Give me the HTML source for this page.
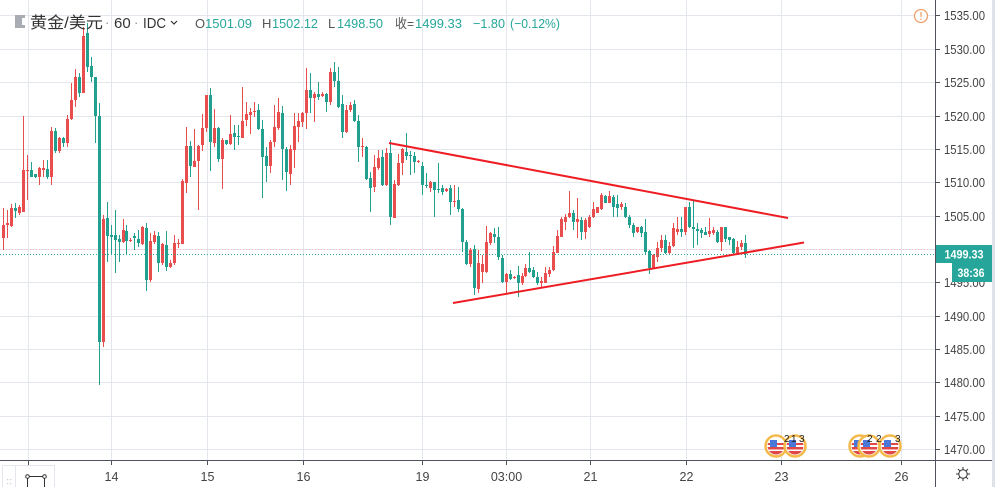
<!DOCTYPE html>
<html><head><meta charset="utf-8"><style>
html,body{margin:0;padding:0;background:#fff;}
svg{display:block;}
text{font-family:"Liberation Sans","Noto Sans CJK SC",sans-serif;}
</style></head><body>
<svg width="995" height="487" viewBox="0 0 995 487" xmlns="http://www.w3.org/2000/svg">
<rect width="995" height="487" fill="#fff"/>
<g stroke="#e3e6ec" stroke-width="1">
<line x1="0" y1="15.5" x2="935" y2="15.5"/>
<line x1="0" y1="49.5" x2="935" y2="49.5"/>
<line x1="0" y1="82.5" x2="935" y2="82.5"/>
<line x1="0" y1="116.5" x2="935" y2="116.5"/>
<line x1="0" y1="149.5" x2="935" y2="149.5"/>
<line x1="0" y1="182.5" x2="935" y2="182.5"/>
<line x1="0" y1="216.5" x2="935" y2="216.5"/>
<line x1="0" y1="249.5" x2="935" y2="249.5"/>
<line x1="0" y1="282.5" x2="935" y2="282.5"/>
<line x1="0" y1="316.5" x2="935" y2="316.5"/>
<line x1="0" y1="349.5" x2="935" y2="349.5"/>
<line x1="0" y1="382.5" x2="935" y2="382.5"/>
<line x1="0" y1="416.5" x2="935" y2="416.5"/>
<line x1="0" y1="449.5" x2="935" y2="449.5"/>
<line x1="28.5" y1="0" x2="28.5" y2="460"/>
<line x1="111.5" y1="0" x2="111.5" y2="460"/>
<line x1="207.5" y1="0" x2="207.5" y2="460"/>
<line x1="303.5" y1="0" x2="303.5" y2="460"/>
<line x1="422.5" y1="0" x2="422.5" y2="460"/>
<line x1="506.5" y1="0" x2="506.5" y2="460"/>
<line x1="590.5" y1="0" x2="590.5" y2="460"/>
<line x1="686.5" y1="0" x2="686.5" y2="460"/>
<line x1="781.5" y1="0" x2="781.5" y2="460"/>
<line x1="901.5" y1="0" x2="901.5" y2="460"/>
</g>
<line x1="0" y1="249.5" x2="935" y2="249.5" stroke="#f3c6cf" stroke-width="1" stroke-dasharray="1,2"/>
<g fill="#e84e4e">
<rect x="3" y="208" width="1" height="42"/><rect x="2" y="225" width="3" height="13"/>
<rect x="7" y="210" width="1" height="28"/><rect x="6" y="223" width="3" height="2"/>
<rect x="11" y="204" width="1" height="23"/><rect x="10" y="208" width="3" height="18"/>
<rect x="19" y="205" width="1" height="10"/><rect x="18" y="207" width="3" height="6"/>
<rect x="23" y="116" width="1" height="96"/><rect x="22" y="170" width="3" height="42"/>
<rect x="27" y="155" width="1" height="45"/><rect x="26" y="170" width="3" height="1"/>
<rect x="39" y="167" width="1" height="18"/><rect x="38" y="168" width="3" height="9"/>
<rect x="43" y="160" width="1" height="17"/><rect x="42" y="168" width="3" height="2"/>
<rect x="51" y="127" width="1" height="58"/><rect x="50" y="131" width="3" height="46"/>
<rect x="59" y="137" width="1" height="16"/><rect x="58" y="138" width="3" height="13"/>
<rect x="67" y="115" width="1" height="32"/><rect x="66" y="119" width="3" height="24"/>
<rect x="71" y="83" width="1" height="37"/><rect x="70" y="100" width="3" height="19"/>
<rect x="75" y="69" width="1" height="38"/><rect x="74" y="77" width="3" height="23"/>
<rect x="83" y="27" width="1" height="66"/><rect x="82" y="36" width="3" height="57"/>
<rect x="103" y="215" width="1" height="132"/><rect x="102" y="219" width="3" height="123"/>
<rect x="123" y="219" width="1" height="24"/><rect x="122" y="230" width="3" height="12"/>
<rect x="130" y="238" width="1" height="4"/><rect x="129" y="240" width="3" height="1"/>
<rect x="142" y="226" width="1" height="19"/><rect x="141" y="227" width="3" height="17"/>
<rect x="150" y="233" width="1" height="49"/><rect x="149" y="241" width="3" height="39"/>
<rect x="154" y="231" width="1" height="13"/><rect x="153" y="235" width="3" height="7"/>
<rect x="162" y="243" width="1" height="22"/><rect x="161" y="244" width="3" height="19"/>
<rect x="170" y="260" width="1" height="8"/><rect x="169" y="263" width="3" height="4"/>
<rect x="174" y="235" width="1" height="30"/><rect x="173" y="243" width="3" height="20"/>
<rect x="178" y="239" width="1" height="9"/><rect x="177" y="243" width="3" height="1"/>
<rect x="182" y="179" width="1" height="65"/><rect x="181" y="181" width="3" height="63"/>
<rect x="186" y="127" width="1" height="66"/><rect x="185" y="146" width="3" height="37"/>
<rect x="194" y="129" width="1" height="38"/><rect x="193" y="161" width="3" height="6"/>
<rect x="198" y="145" width="1" height="65"/><rect x="197" y="146" width="3" height="15"/>
<rect x="202" y="114" width="1" height="37"/><rect x="201" y="128" width="3" height="17"/>
<rect x="206" y="95" width="1" height="37"/><rect x="205" y="95" width="3" height="33"/>
<rect x="214" y="109" width="1" height="38"/><rect x="213" y="128" width="3" height="15"/>
<rect x="222" y="138" width="1" height="51"/><rect x="221" y="140" width="3" height="19"/>
<rect x="230" y="115" width="1" height="30"/><rect x="229" y="134" width="3" height="10"/>
<rect x="242" y="87" width="1" height="51"/><rect x="241" y="121" width="3" height="17"/>
<rect x="246" y="102" width="1" height="24"/><rect x="245" y="114" width="3" height="6"/>
<rect x="250" y="108" width="1" height="26"/><rect x="249" y="112" width="3" height="3"/>
<rect x="254" y="102" width="1" height="15"/><rect x="253" y="111" width="3" height="1"/>
<rect x="270" y="140" width="1" height="33"/><rect x="269" y="142" width="3" height="24"/>
<rect x="274" y="105" width="1" height="42"/><rect x="273" y="127" width="3" height="15"/>
<rect x="278" y="98" width="1" height="32"/><rect x="277" y="112" width="3" height="16"/>
<rect x="290" y="145" width="1" height="40"/><rect x="289" y="149" width="3" height="25"/>
<rect x="294" y="113" width="1" height="55"/><rect x="293" y="126" width="3" height="24"/>
<rect x="298" y="113" width="1" height="29"/><rect x="297" y="121" width="3" height="6"/>
<rect x="302" y="112" width="1" height="15"/><rect x="301" y="113" width="3" height="9"/>
<rect x="306" y="68" width="1" height="61"/><rect x="305" y="90" width="3" height="23"/>
<rect x="314" y="92" width="1" height="30"/><rect x="313" y="94" width="3" height="4"/>
<rect x="322" y="92" width="1" height="5"/><rect x="321" y="94" width="3" height="2"/>
<rect x="330" y="68" width="1" height="37"/><rect x="329" y="72" width="3" height="30"/>
<rect x="346" y="105" width="1" height="28"/><rect x="345" y="110" width="3" height="22"/>
<rect x="350" y="102" width="1" height="10"/><rect x="349" y="105" width="3" height="5"/>
<rect x="362" y="138" width="1" height="19"/><rect x="361" y="146" width="3" height="1"/>
<rect x="374" y="155" width="1" height="37"/><rect x="373" y="167" width="3" height="20"/>
<rect x="378" y="150" width="1" height="20"/><rect x="377" y="158" width="3" height="10"/>
<rect x="386" y="148" width="1" height="38"/><rect x="385" y="153" width="3" height="32"/>
<rect x="394" y="180" width="1" height="38"/><rect x="393" y="184" width="3" height="34"/>
<rect x="398" y="154" width="1" height="32"/><rect x="397" y="163" width="3" height="22"/>
<rect x="402" y="148" width="1" height="27"/><rect x="401" y="149" width="3" height="14"/>
<rect x="418" y="160" width="1" height="3"/><rect x="417" y="161" width="3" height="1"/>
<rect x="430" y="181" width="1" height="11"/><rect x="429" y="182" width="3" height="6"/>
<rect x="446" y="188" width="1" height="4"/><rect x="445" y="189" width="3" height="2"/>
<rect x="454" y="185" width="1" height="22"/><rect x="453" y="201" width="3" height="1"/>
<rect x="470" y="248" width="1" height="19"/><rect x="469" y="250" width="3" height="14"/>
<rect x="478" y="250" width="1" height="43"/><rect x="477" y="263" width="3" height="26"/>
<rect x="482" y="255" width="1" height="28"/><rect x="481" y="264" width="3" height="8"/>
<rect x="486" y="226" width="1" height="47"/><rect x="485" y="242" width="3" height="30"/>
<rect x="490" y="232" width="1" height="13"/><rect x="489" y="233" width="3" height="10"/>
<rect x="506" y="273" width="1" height="20"/><rect x="505" y="274" width="3" height="8"/>
<rect x="514" y="276" width="1" height="3"/><rect x="513" y="277" width="3" height="1"/>
<rect x="522" y="273" width="1" height="12"/><rect x="521" y="276" width="3" height="7"/>
<rect x="525" y="264" width="1" height="13"/><rect x="524" y="268" width="3" height="8"/>
<rect x="541" y="277" width="1" height="10"/><rect x="540" y="281" width="3" height="2"/>
<rect x="545" y="267" width="1" height="16"/><rect x="544" y="273" width="3" height="10"/>
<rect x="549" y="267" width="1" height="10"/><rect x="548" y="270" width="3" height="4"/>
<rect x="553" y="246" width="1" height="25"/><rect x="552" y="252" width="3" height="18"/>
<rect x="557" y="230" width="1" height="23"/><rect x="556" y="236" width="3" height="17"/>
<rect x="561" y="217" width="1" height="20"/><rect x="560" y="219" width="3" height="18"/>
<rect x="565" y="214" width="1" height="16"/><rect x="564" y="217" width="3" height="5"/>
<rect x="569" y="191" width="1" height="27"/><rect x="568" y="213" width="3" height="4"/>
<rect x="577" y="198" width="1" height="40"/><rect x="576" y="219" width="3" height="3"/>
<rect x="585" y="218" width="1" height="21"/><rect x="584" y="220" width="3" height="12"/>
<rect x="589" y="215" width="1" height="13"/><rect x="588" y="217" width="3" height="10"/>
<rect x="593" y="202" width="1" height="16"/><rect x="592" y="209" width="3" height="8"/>
<rect x="597" y="207" width="1" height="6"/><rect x="596" y="207" width="3" height="6"/>
<rect x="601" y="193" width="1" height="17"/><rect x="600" y="195" width="3" height="14"/>
<rect x="609" y="191" width="1" height="12"/><rect x="608" y="196" width="3" height="7"/>
<rect x="621" y="202" width="1" height="8"/><rect x="620" y="204" width="3" height="3"/>
<rect x="637" y="227" width="1" height="6"/><rect x="636" y="227" width="3" height="5"/>
<rect x="653" y="254" width="1" height="15"/><rect x="652" y="255" width="3" height="13"/>
<rect x="657" y="242" width="1" height="20"/><rect x="656" y="248" width="3" height="9"/>
<rect x="661" y="235" width="1" height="17"/><rect x="660" y="240" width="3" height="8"/>
<rect x="669" y="242" width="1" height="13"/><rect x="668" y="246" width="3" height="7"/>
<rect x="673" y="223" width="1" height="24"/><rect x="672" y="228" width="3" height="18"/>
<rect x="677" y="217" width="1" height="18"/><rect x="676" y="229" width="3" height="3"/>
<rect x="685" y="207" width="1" height="28"/><rect x="684" y="207" width="3" height="25"/>
<rect x="709" y="218" width="1" height="19"/><rect x="708" y="231" width="3" height="3"/>
<rect x="713" y="227" width="1" height="8"/><rect x="712" y="230" width="3" height="3"/>
<rect x="721" y="227" width="1" height="24"/><rect x="720" y="227" width="3" height="15"/>
<rect x="737" y="241" width="1" height="14"/><rect x="736" y="247" width="3" height="6"/>
<rect x="741" y="240" width="1" height="10"/><rect x="740" y="243" width="3" height="4"/>
</g>
<g fill="#22a08f">
<rect x="15" y="203" width="1" height="15"/><rect x="14" y="208" width="3" height="3"/>
<rect x="31" y="162" width="1" height="15"/><rect x="30" y="170" width="3" height="7"/>
<rect x="35" y="174" width="1" height="4"/><rect x="34" y="174" width="3" height="3"/>
<rect x="47" y="160" width="1" height="19"/><rect x="46" y="169" width="3" height="8"/>
<rect x="55" y="128" width="1" height="25"/><rect x="54" y="131" width="3" height="20"/>
<rect x="63" y="137" width="1" height="10"/><rect x="62" y="138" width="3" height="5"/>
<rect x="79" y="73" width="1" height="24"/><rect x="78" y="77" width="3" height="16"/>
<rect x="87" y="23" width="1" height="49"/><rect x="86" y="33" width="3" height="34"/>
<rect x="91" y="57" width="1" height="25"/><rect x="90" y="66" width="3" height="11"/>
<rect x="95" y="77" width="1" height="66"/><rect x="94" y="77" width="3" height="39"/>
<rect x="99" y="103" width="1" height="282"/><rect x="98" y="116" width="3" height="226"/>
<rect x="107" y="202" width="1" height="60"/><rect x="106" y="218" width="3" height="18"/>
<rect x="111" y="225" width="1" height="30"/><rect x="110" y="235" width="3" height="2"/>
<rect x="115" y="210" width="1" height="63"/><rect x="114" y="235" width="3" height="5"/>
<rect x="119" y="235" width="1" height="27"/><rect x="118" y="239" width="3" height="3"/>
<rect x="126" y="225" width="1" height="30"/><rect x="125" y="231" width="3" height="10"/>
<rect x="134" y="233" width="1" height="17"/><rect x="133" y="236" width="3" height="2"/>
<rect x="138" y="230" width="1" height="17"/><rect x="137" y="239" width="3" height="4"/>
<rect x="146" y="223" width="1" height="68"/><rect x="145" y="228" width="3" height="52"/>
<rect x="158" y="232" width="1" height="40"/><rect x="157" y="236" width="3" height="27"/>
<rect x="166" y="231" width="1" height="40"/><rect x="165" y="245" width="3" height="22"/>
<rect x="190" y="141" width="1" height="36"/><rect x="189" y="146" width="3" height="20"/>
<rect x="210" y="88" width="1" height="83"/><rect x="209" y="95" width="3" height="47"/>
<rect x="218" y="127" width="1" height="35"/><rect x="217" y="128" width="3" height="31"/>
<rect x="226" y="140" width="1" height="5"/><rect x="225" y="140" width="3" height="4"/>
<rect x="234" y="125" width="1" height="25"/><rect x="233" y="133" width="3" height="4"/>
<rect x="238" y="125" width="1" height="20"/><rect x="237" y="136" width="3" height="1"/>
<rect x="258" y="104" width="1" height="26"/><rect x="257" y="110" width="3" height="19"/>
<rect x="262" y="120" width="1" height="78"/><rect x="261" y="129" width="3" height="28"/>
<rect x="266" y="147" width="1" height="35"/><rect x="265" y="156" width="3" height="10"/>
<rect x="282" y="106" width="1" height="74"/><rect x="281" y="113" width="3" height="36"/>
<rect x="286" y="147" width="1" height="44"/><rect x="285" y="149" width="3" height="23"/>
<rect x="310" y="73" width="1" height="40"/><rect x="309" y="90" width="3" height="8"/>
<rect x="318" y="82" width="1" height="18"/><rect x="317" y="94" width="3" height="3"/>
<rect x="326" y="93" width="1" height="19"/><rect x="325" y="94" width="3" height="8"/>
<rect x="334" y="62" width="1" height="25"/><rect x="333" y="72" width="3" height="9"/>
<rect x="338" y="67" width="1" height="41"/><rect x="337" y="81" width="3" height="26"/>
<rect x="342" y="95" width="1" height="43"/><rect x="341" y="104" width="3" height="28"/>
<rect x="354" y="100" width="1" height="22"/><rect x="353" y="104" width="3" height="17"/>
<rect x="358" y="115" width="1" height="47"/><rect x="357" y="121" width="3" height="26"/>
<rect x="366" y="146" width="1" height="34"/><rect x="365" y="147" width="3" height="32"/>
<rect x="370" y="172" width="1" height="40"/><rect x="369" y="178" width="3" height="10"/>
<rect x="382" y="150" width="1" height="36"/><rect x="381" y="157" width="3" height="28"/>
<rect x="390" y="140" width="1" height="85"/><rect x="389" y="153" width="3" height="64"/>
<rect x="406" y="133" width="1" height="27"/><rect x="405" y="152" width="3" height="4"/>
<rect x="410" y="151" width="1" height="24"/><rect x="409" y="155" width="3" height="1"/>
<rect x="414" y="152" width="1" height="21"/><rect x="413" y="156" width="3" height="6"/>
<rect x="422" y="162" width="1" height="33"/><rect x="421" y="166" width="3" height="19"/>
<rect x="426" y="173" width="1" height="15"/><rect x="425" y="185" width="3" height="1"/>
<rect x="434" y="182" width="1" height="35"/><rect x="433" y="182" width="3" height="8"/>
<rect x="438" y="163" width="1" height="30"/><rect x="437" y="189" width="3" height="1"/>
<rect x="442" y="185" width="1" height="10"/><rect x="441" y="188" width="3" height="4"/>
<rect x="450" y="185" width="1" height="30"/><rect x="449" y="188" width="3" height="14"/>
<rect x="458" y="187" width="1" height="25"/><rect x="457" y="200" width="3" height="9"/>
<rect x="462" y="208" width="1" height="44"/><rect x="461" y="209" width="3" height="33"/>
<rect x="466" y="240" width="1" height="25"/><rect x="465" y="242" width="3" height="22"/>
<rect x="474" y="245" width="1" height="50"/><rect x="473" y="249" width="3" height="39"/>
<rect x="494" y="228" width="1" height="15"/><rect x="493" y="234" width="3" height="3"/>
<rect x="498" y="227" width="1" height="33"/><rect x="497" y="237" width="3" height="20"/>
<rect x="502" y="255" width="1" height="28"/><rect x="501" y="258" width="3" height="24"/>
<rect x="510" y="270" width="1" height="10"/><rect x="509" y="274" width="3" height="5"/>
<rect x="518" y="266" width="1" height="31"/><rect x="517" y="275" width="3" height="8"/>
<rect x="529" y="252" width="1" height="21"/><rect x="528" y="268" width="3" height="4"/>
<rect x="533" y="267" width="1" height="11"/><rect x="532" y="270" width="3" height="7"/>
<rect x="537" y="272" width="1" height="13"/><rect x="536" y="277" width="3" height="6"/>
<rect x="573" y="210" width="1" height="20"/><rect x="572" y="213" width="3" height="9"/>
<rect x="581" y="217" width="1" height="23"/><rect x="580" y="220" width="3" height="12"/>
<rect x="605" y="195" width="1" height="8"/><rect x="604" y="196" width="3" height="7"/>
<rect x="613" y="195" width="1" height="22"/><rect x="612" y="197" width="3" height="10"/>
<rect x="617" y="195" width="1" height="22"/><rect x="616" y="204" width="3" height="4"/>
<rect x="625" y="203" width="1" height="15"/><rect x="624" y="207" width="3" height="10"/>
<rect x="629" y="215" width="1" height="13"/><rect x="628" y="217" width="3" height="8"/>
<rect x="633" y="223" width="1" height="14"/><rect x="632" y="225" width="3" height="8"/>
<rect x="641" y="226" width="1" height="11"/><rect x="640" y="227" width="3" height="6"/>
<rect x="645" y="219" width="1" height="36"/><rect x="644" y="232" width="3" height="20"/>
<rect x="649" y="250" width="1" height="24"/><rect x="648" y="251" width="3" height="17"/>
<rect x="665" y="235" width="1" height="19"/><rect x="664" y="240" width="3" height="13"/>
<rect x="681" y="217" width="1" height="20"/><rect x="680" y="229" width="3" height="3"/>
<rect x="689" y="202" width="1" height="26"/><rect x="688" y="207" width="3" height="20"/>
<rect x="693" y="200" width="1" height="48"/><rect x="692" y="227" width="3" height="2"/>
<rect x="697" y="223" width="1" height="22"/><rect x="696" y="229" width="3" height="2"/>
<rect x="701" y="228" width="1" height="10"/><rect x="700" y="230" width="3" height="3"/>
<rect x="705" y="227" width="1" height="8"/><rect x="704" y="232" width="3" height="3"/>
<rect x="717" y="230" width="1" height="13"/><rect x="716" y="232" width="3" height="10"/>
<rect x="725" y="227" width="1" height="15"/><rect x="724" y="227" width="3" height="12"/>
<rect x="729" y="237" width="1" height="8"/><rect x="728" y="237" width="3" height="3"/>
<rect x="733" y="238" width="1" height="17"/><rect x="732" y="239" width="3" height="14"/>
<rect x="745" y="235" width="1" height="23"/><rect x="744" y="243" width="3" height="11"/>
</g>
<line x1="0" y1="254.5" x2="935" y2="254.5" stroke="#26a69a" stroke-width="1" stroke-dasharray="1,2"/>
<line x1="389" y1="143" x2="788" y2="218" stroke="#ee1d24" stroke-width="2"/>
<line x1="453" y1="303" x2="804" y2="242.5" stroke="#ee1d24" stroke-width="2"/>
<path d="M15 15 H25 V18 H22 V25 H25 V28 H15 Z" fill="#a9acb3"/>
<text x="30" y="28" font-size="16" fill="#333" textLength="73" lengthAdjust="spacingAndGlyphs">黄金/美元</text>
<text x="105" y="27" font-size="13" fill="#888">·</text>
<text x="114" y="28" font-size="15" fill="#333">60</text>
<text x="134" y="27" font-size="13" fill="#888">·</text>
<text x="143" y="28" font-size="15" fill="#333" textLength="23" lengthAdjust="spacingAndGlyphs">IDC</text>
<path d="M171 21 L174 24 L177 21" fill="none" stroke="#333" stroke-width="1.2"/>
<g font-size="13">
<text x="195" y="28" fill="#555">O</text>
<text x="205" y="28" fill="#26a69a" textLength="47" lengthAdjust="spacingAndGlyphs">1501.09</text>
<text x="262" y="28" fill="#555">H</text>
<text x="272" y="28" fill="#26a69a" textLength="46" lengthAdjust="spacingAndGlyphs">1502.12</text>
<text x="328" y="28" fill="#555">L</text>
<text x="337" y="28" fill="#26a69a" textLength="46" lengthAdjust="spacingAndGlyphs">1498.50</text>
<text x="395" y="28" fill="#555" textLength="19" lengthAdjust="spacingAndGlyphs">收=</text>
<text x="415" y="28" fill="#26a69a" textLength="47" lengthAdjust="spacingAndGlyphs">1499.33</text>
<text x="473" y="28" fill="#26a69a" textLength="32" lengthAdjust="spacingAndGlyphs">−1.80</text>
<text x="510" y="28" fill="#26a69a" textLength="50" lengthAdjust="spacingAndGlyphs">(−0.12%)</text>
</g>
<circle cx="921" cy="16" r="6.5" fill="#fff" stroke="#f0a06a" stroke-width="1.3"/>
<rect x="920.4" y="12" width="1.3" height="5" fill="#f0a06a"/>
<rect x="920.4" y="18.5" width="1.3" height="1.3" fill="#f0a06a"/>
<defs>
<clipPath id="c1"><circle cx="0" cy="0" r="8.5"/></clipPath>
<g id="flag">
<circle cx="0" cy="0" r="10.5" fill="#fff" stroke="#f5b94a" stroke-width="2.5"/>
<g clip-path="url(#c1)">
<rect x="-9" y="-9" width="18" height="18" fill="#fff"/>
<rect x="-9" y="1" width="18" height="2.5" fill="#e04848"/>
<rect x="-9" y="5" width="18" height="4" fill="#e04848"/>
<rect x="-9" y="-3" width="18" height="2" fill="#e04848"/>
<rect x="-6" y="-6" width="7" height="7" fill="#4a78d8"/>
</g>
</g>
</defs>
<use href="#flag" x="776" y="446"/>
<use href="#flag" x="795" y="446"/>
<use href="#flag" x="860" y="446"/>
<use href="#flag" x="869" y="446"/>
<use href="#flag" x="890" y="446"/>
<g font-size="10" fill="#222">
<text x="784" y="442">2</text>
<text x="791" y="442">1</text>
<text x="799" y="442">3</text>
<text x="867" y="442">2</text>
<text x="876" y="442">2</text>
<text x="895" y="442">3</text>
</g>
<line x1="0" y1="460.5" x2="992" y2="460.5" stroke="#50535e" stroke-width="1"/>
<line x1="935.5" y1="0" x2="935.5" y2="487" stroke="#50535e" stroke-width="1"/>
<rect x="992" y="0" width="3" height="487" fill="#dfe2e8"/>
<g stroke="#50535e" stroke-width="1">
<line x1="936" y1="15.5" x2="940" y2="15.5"/>
<line x1="936" y1="49.5" x2="940" y2="49.5"/>
<line x1="936" y1="82.5" x2="940" y2="82.5"/>
<line x1="936" y1="116.5" x2="940" y2="116.5"/>
<line x1="936" y1="149.5" x2="940" y2="149.5"/>
<line x1="936" y1="182.5" x2="940" y2="182.5"/>
<line x1="936" y1="216.5" x2="940" y2="216.5"/>
<line x1="936" y1="282.5" x2="940" y2="282.5"/>
<line x1="936" y1="316.5" x2="940" y2="316.5"/>
<line x1="936" y1="349.5" x2="940" y2="349.5"/>
<line x1="936" y1="382.5" x2="940" y2="382.5"/>
<line x1="936" y1="416.5" x2="940" y2="416.5"/>
<line x1="936" y1="449.5" x2="940" y2="449.5"/>
<line x1="28.5" y1="461" x2="28.5" y2="465"/>
<line x1="111.5" y1="461" x2="111.5" y2="465"/>
<line x1="207.5" y1="461" x2="207.5" y2="465"/>
<line x1="303.5" y1="461" x2="303.5" y2="465"/>
<line x1="422.5" y1="461" x2="422.5" y2="465"/>
<line x1="506.5" y1="461" x2="506.5" y2="465"/>
<line x1="590.5" y1="461" x2="590.5" y2="465"/>
<line x1="686.5" y1="461" x2="686.5" y2="465"/>
<line x1="781.5" y1="461" x2="781.5" y2="465"/>
<line x1="901.5" y1="461" x2="901.5" y2="465"/>
</g>
<g font-size="12.5" fill="#444">
<text x="944" y="20" textLength="41" lengthAdjust="spacingAndGlyphs">1535.00</text>
<text x="944" y="54" textLength="41" lengthAdjust="spacingAndGlyphs">1530.00</text>
<text x="944" y="87" textLength="41" lengthAdjust="spacingAndGlyphs">1525.00</text>
<text x="944" y="121" textLength="41" lengthAdjust="spacingAndGlyphs">1520.00</text>
<text x="944" y="154" textLength="41" lengthAdjust="spacingAndGlyphs">1515.00</text>
<text x="944" y="187" textLength="41" lengthAdjust="spacingAndGlyphs">1510.00</text>
<text x="944" y="221" textLength="41" lengthAdjust="spacingAndGlyphs">1505.00</text>
<text x="944" y="287" textLength="41" lengthAdjust="spacingAndGlyphs">1495.00</text>
<text x="944" y="321" textLength="41" lengthAdjust="spacingAndGlyphs">1490.00</text>
<text x="944" y="354" textLength="41" lengthAdjust="spacingAndGlyphs">1485.00</text>
<text x="944" y="387" textLength="41" lengthAdjust="spacingAndGlyphs">1480.00</text>
<text x="944" y="421" textLength="41" lengthAdjust="spacingAndGlyphs">1475.00</text>
<text x="944" y="454" textLength="41" lengthAdjust="spacingAndGlyphs">1470.00</text>
</g>
<g font-size="12.5" fill="#444" text-anchor="middle">
<text x="111.5" y="481">14</text>
<text x="207.5" y="481">15</text>
<text x="303.5" y="481">16</text>
<text x="422.5" y="481">19</text>
<text x="506.5" y="481">03:00</text>
<text x="590.5" y="481">21</text>
<text x="686.5" y="481">22</text>
<text x="781.5" y="481">23</text>
<text x="901.5" y="481">26</text>
</g>
<rect x="936" y="245" width="56" height="18" fill="#26a69a"/>
<text x="964" y="258.5" font-size="12" font-weight="bold" fill="#fff" text-anchor="middle" textLength="39" lengthAdjust="spacingAndGlyphs">1499.33</text>
<rect x="952" y="263" width="40" height="19" fill="#26a69a"/>
<text x="971" y="277" font-size="12" font-weight="bold" fill="#fff" text-anchor="middle" textLength="27" lengthAdjust="spacingAndGlyphs">38:36</text>
<rect x="2.5" y="465.5" width="52" height="22" fill="#fff" stroke="#e3e6ec" stroke-width="1"/>
<line x1="15.5" y1="466" x2="15.5" y2="487" stroke="#e3e6ec"/>
<g fill="#c8cbd2">
<rect x="7" y="479" width="1.2" height="1.2"/><rect x="10" y="479" width="1.2" height="1.2"/>
<rect x="7" y="483" width="1.2" height="1.2"/><rect x="10" y="483" width="1.2" height="1.2"/>
</g>
<g fill="none" stroke="#333" stroke-width="1">
<circle cx="27.5" cy="476.5" r="1.8"/>
<circle cx="44.5" cy="476.5" r="1.8"/>
<line x1="29.3" y1="476.5" x2="42.7" y2="476.5"/>
<line x1="27.5" y1="478.3" x2="27.5" y2="487"/>
<line x1="44.5" y1="478.3" x2="44.5" y2="487"/>
</g>
<g stroke="#333" stroke-width="1" fill="none">
<circle cx="963" cy="474" r="4.2"/>
<line x1="963" y1="467" x2="963" y2="469.5"/>
<line x1="963" y1="478.5" x2="963" y2="481"/>
<line x1="956" y1="474" x2="958.5" y2="474"/>
<line x1="967.5" y1="474" x2="970" y2="474"/>
<line x1="958" y1="469" x2="959.8" y2="470.8"/>
<line x1="966.2" y1="477.2" x2="968" y2="479"/>
<line x1="968" y1="469" x2="966.2" y2="470.8"/>
<line x1="959.8" y1="477.2" x2="958" y2="479"/>
</g>
</svg>
</body></html>
